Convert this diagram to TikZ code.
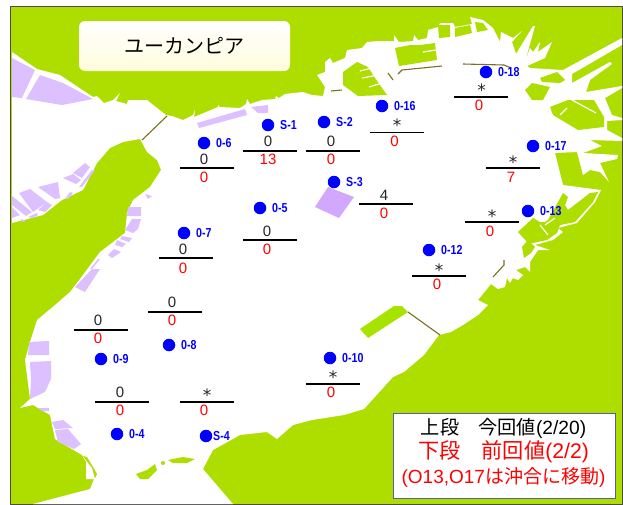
\documentclass[tikz,border=0pt]{standalone}
\usepackage{fontspec}
\setmainfont{Liberation Sans}
\newfontfamily\jp{Noto Sans CJK JP}
\newfontfamily\djv{DejaVu Sans}
\definecolor{land}{HTML}{AEDD00}
\definecolor{land2}{HTML}{A6E400}
\definecolor{fill1}{HTML}{DCC0FF}
\definecolor{fill2}{HTML}{D2A8FF}
\definecolor{bridge}{HTML}{7A7020}
\definecolor{title1}{HTML}{FFFFFF}
\definecolor{title2}{HTML}{FFFBDC}
\definecolor{frameb}{HTML}{5A5AB0}
\usetikzlibrary{calc}
\tikzset{
  water/.style={fill=white},
  isle/.style={fill=land},
  reclaimed/.style={fill=fill1},
  bridgeline/.style={draw=bridge,line width=1.1pt},
  slit/.style={draw=white,line width=1.2pt},
  dot/.style={circle,fill=blue,inner sep=0pt,minimum size=12.5pt},
  stn/.style={anchor=west,text=blue,inner sep=0pt,font=\fontsize{13}{13}\selectfont\bfseries,xscale=.82},
  upper/.style={anchor=base,inner sep=0pt,text=black!85,font=\fontsize{15}{15}\selectfont},
  lower/.style={anchor=base,inner sep=0pt,text=red,font=\fontsize{15}{15}\selectfont},
  star/.style={anchor=base,inner sep=0pt,text=black!85,font=\djv\fontsize{17}{17}\selectfont},
  bar/.style={draw=black,line width=1.5pt},
}
\newcommand{\stat}[6]{% name, dotx, doty, label, barx, bary
  \node[dot] (#1) at (#2,#3) {};
  \node[stn] (#1l) at ($(#1)+(12,0)$) {#4};
  \coordinate (#1a) at (#5,#6);
  \coordinate (#1b) at ($(#1a)+(54,0)$);
  \draw[bar] (#1a) -- (#1b);
}
\begin{document}
\begin{tikzpicture}[x=1pt,y=-1pt]
\useasboundingbox (0,0) rectangle (623,504);
\fill[white] (0,0) rectangle (623,504);
\draw[fill=land,draw=black!70,line width=1pt] (10.5,6.5) -- (622.5,6.5) -- (622.5,504) -- (10.5,504) -- cycle;
% main water
\fill[water] (12,52) -- (37,69) -- (60,75) -- (93,97) -- (97,96) -- (104,103) -- (113,100) -- (120,93) -- (116,101) -- (127,104) -- (128,100) -- (147,100)
 -- (166,115) -- (172,116) -- (183,120) -- (193,115) -- (195,110) -- (194,117) -- (218,107) -- (218,105) -- (220,107) -- (240,108) -- (246,104) -- (247,99) -- (250,104) -- (262,100) -- (275,99) -- (276,96) -- (279,98) -- (285,94) -- (293,93) -- (303,92)
 -- (312,95) -- (323,96) -- (325,87) -- (317,75) -- (325,72) -- (325,62) -- (330,58) -- (333,63) -- (345,58) -- (347,50) -- (362,48) -- (367,42) -- (378,41) -- (394,41) -- (394,35) -- (399,42) -- (413,41) -- (414,35) -- (418,40) -- (427,38) -- (428,30) -- (438,27) -- (440,23) -- (453,23) -- (455,27) -- (472,24) -- (470,17) -- (483,20) -- (493,28) -- (500,42)
 -- (501,32) -- (513,38) -- (522,31) -- (512,42) -- (516,54) -- (533,26) -- (535,26) -- (525,62) -- (530,48) -- (533,52) -- (540,42) -- (538,52) -- (552,42) -- (545,58) -- (527,66) -- (530,68) -- (563,70) -- (622,38) -- (622,45) -- (572,74) -- (572,83) -- (610,62) -- (612,64) -- (590,80) -- (586,92) -- (622,86) -- (622,88) -- (605,98) -- (612,115) -- (622,118) -- (622,120) -- (607,121) -- (607,130) -- (622,138) -- (622,141) -- (590,140) -- (602,146) -- (583,153) -- (618,155) -- (617,159) -- (600,163) -- (609,182) -- (600,172) -- (590,170) -- (583,175) -- (577,152) -- (555,153) -- (563,185) -- (601,190) -- (595,202) -- (577,223) -- (558,228) -- (563,232) -- (553,240) -- (535,245) -- (550,250) -- (538,250) -- (530,262) -- (530,272) -- (525,267) -- (516,270) -- (523,275) -- (518,280) -- (513,278) -- (510,283) -- (507,278) -- (505,287)
 -- (498,289) -- (491,284) -- (478,300) -- (488,305) -- (478,315) -- (463,325) -- (451,332) -- (439,335) -- (424,355) -- (404,372) -- (393,377) -- (364,409) -- (344,415) -- (312,420) -- (293,425) -- (277,439) -- (267,432) -- (240,435) -- (213,450) -- (203,469) -- (233,504)
 -- (33,504) -- (90,489) -- (94,479) -- (86,479) -- (86,462) -- (82,455) -- (55,439) -- (50,415) -- (33,405) -- (20,408) -- (30,399) -- (25,360) -- (30,342) -- (37,320) -- (55,305) -- (70,292) -- (80,279) -- (100,252) -- (125,233) -- (127,213) -- (133,200) -- (150,187) -- (161,170) -- (157,160) -- (147,152) -- (140,139) -- (123,142) -- (110,148) -- (97,163) -- (83,190) -- (62,200) -- (43,215) -- (12,223) -- cycle;
% green islands
\fill[isle] (343,72) -- (357,62) -- (368,67) -- (375,78) -- (387,95) -- (358,96) -- (343,85) -- cycle;
\fill[isle] (395,48) -- (410,45) -- (420,45) -- (435,43) -- (437,60) -- (399,66) -- cycle;
\fill[isle] (438,25) -- (450,25) -- (450,37) -- (439,38) -- cycle;
\fill[isle] (455,28) -- (470,25) -- (472,33) -- (455,37) -- cycle;
\fill[isle] (475,22) -- (483,23) -- (488,30) -- (477,32) -- cycle;
\fill[isle] (540,78) -- (557,72) -- (565,80) -- (560,83) -- (542,82) -- cycle;
\fill[isle] (525,90) -- (532,83) -- (550,87) -- (543,100) -- (532,100) -- cycle;
\fill[isle] (550,107) -- (568,100) -- (594,100) -- (604,117) -- (604,127) -- (578,130) -- (553,115) -- cycle;
\fill[isle] (563,193) -- (568,197) -- (565,205) -- (568,210) -- (590,193) -- (598,192) -- (593,202) -- (575,222) -- (560,225) -- (557,233) -- (547,240) -- (533,243) -- (527,242) -- (518,232) -- (533,218) -- (540,222) -- (545,222) -- (548,220) -- cycle;
\fill[isle] (522,247) -- (528,240) -- (535,247) -- (531,253) -- (524,258) -- cycle;
\fill[isle] (83,456) -- (87,457) -- (93,467) -- (97,474) -- (95,478) -- (92,468) -- (86,460) -- cycle;
\fill[isle] (136,474) -- (147,470) -- (155,464) -- (157,470) -- (148,479) -- (140,479) -- cycle;
\fill[isle] (163,463) circle[radius=2];
\fill[isle] (168,460) -- (183,457) -- (195,459) -- (187,463) -- (173,463) -- cycle;
\fill[land2] (360,329) -- (394,306) -- (402,306) -- (408,312) -- (368,338) -- cycle;
% white slits
\draw[slit] (360,71) -- (372,68) (362,78) -- (378,75) (369,87) -- (382,83) (423,52) -- (436,50);
\draw[slit] (560,115) -- (567,108) (572,100) -- (596,113);
\draw[slit] (545,225) -- (555,218) (540,225) -- (548,235);
% reclaimed land
\fill[reclaimed] (12,58) -- (35,70) -- (22,98) -- (12,97) -- cycle;
\fill[reclaimed] (40,75) -- (63,83) -- (93,99) -- (62,105) -- (26,99) -- cycle;
\fill[reclaimed] (197,123) -- (245,109) -- (247,115) -- (199,128) -- cycle;
\fill[reclaimed] (251,107) -- (268,105) -- (268,113) -- (258,113) -- cycle;
\fill[reclaimed] (12,196) -- (32,212) -- (26,216) -- (12,205) -- cycle;
\fill[reclaimed] (19,193) -- (30,189) -- (47,202) -- (33,212) -- cycle;
\fill[reclaimed] (38,187) -- (58,182) -- (60,198) -- (55,199) -- cycle;
\fill[reclaimed] (63,178) -- (73,174) -- (81,180) -- (76,184) -- cycle;
\fill[reclaimed] (73,173) -- (85,163) -- (90,167) -- (82,178) -- cycle;
\fill[reclaimed] (79,187) -- (92,170) -- (95,170) -- (82,187) -- cycle;
\fill[reclaimed] (65,199) -- (70,192) -- (73,193) -- (68,199) -- cycle;
\fill[reclaimed] (38,210) -- (47,202) -- (52,205) -- (45,212) -- cycle;
\fill[reclaimed] (28,217) -- (37,213) -- (38,215) -- (32,218) -- cycle;
\fill[reclaimed] (12,207) -- (20,215) -- (12,218) -- cycle;
\fill[reclaimed] (21,219) -- (26,221) -- (22,222) -- cycle;
\fill[reclaimed] (145,194) -- (152,196) -- (148,199) -- cycle;
\fill[reclaimed] (128,207) -- (141,207) -- (141,216) -- (127,216) -- cycle;
\fill[reclaimed] (132,219) -- (141,219) -- (138,229) -- (133,233) -- (125,230) -- cycle;
\fill[reclaimed] (122,236) -- (132,238) -- (129,242) -- (120,239) -- cycle;
\fill[reclaimed] (117,240) -- (126,244) -- (122,247) -- (115,245) -- cycle;
\fill[reclaimed] (114,249) -- (121,252) -- (112,258) -- (108,255) -- cycle;
\fill[reclaimed] (100,259) -- (92,269) -- (90,269) -- (98,259) -- cycle;
\fill[reclaimed] (100,269) -- (85,292) -- (75,287) -- (92,269) -- cycle;
\fill[reclaimed] (29,342) -- (49,341) -- (49,355) -- (28,355) -- cycle;
\fill[reclaimed] (30,362) -- (51,361) -- (51,379) -- (45,392) -- (30,399) -- (31,379) -- cycle;
\fill[reclaimed] (38,408) -- (49,408) -- (49,411) -- (42,411) -- cycle;
\fill[reclaimed] (52,422) -- (63,420) -- (73,428) -- (55,429) -- cycle;
\fill[reclaimed] (55,430) -- (68,429) -- (81,444) -- (74,449) -- (58,442) -- cycle;
\fill[fill2] (328,187) -- (354,197) -- (339,218) -- (315,207) -- cycle;
% bridges
\draw[bridgeline] (167,116) -- (142,140);
\draw[bridgeline] (331,91) -- (342,90);
\draw[bridgeline] (388,73) -- (393,80);
\draw[bridgeline] (398,74) -- (402,70) -- (442,66);
\draw[bridgeline] (463,64) -- (504,65) -- (511,68);
\draw[bridgeline] (408,312) -- (440,335);
\draw[bridgeline] (493,277) -- (504,265) -- (504,260);
% title
\node[draw=none,rounded corners=6pt,top color=title1,bottom color=title2,minimum width=211pt,minimum height=50pt,inner sep=0pt,font=\jp\fontsize{20}{20}\selectfont] (title) at (184.5,46) {ユーカンピア};
% stations
\stat{o6}{204}{143}{0-6}{180}{168}
\stat{s1}{268}{125}{S-1}{243}{151}
\stat{s2}{324}{122}{S-2}{306}{151}
\stat{o16}{382}{106}{0-16}{370}{132.5}
\stat{o18}{486}{72}{0-18}{454}{97}
\stat{o17}{533}{146}{0-17}{486}{168}
\stat{s3}{334}{182}{S-3}{359}{204}
\stat{o5}{260}{208}{0-5}{243}{240}
\stat{o13}{528}{211}{0-13}{465}{222}
\stat{o7}{184}{233}{0-7}{159}{258}
\stat{o12}{429}{250}{0-12}{412}{276}
\stat{o10}{330}{358}{0-10}{306}{384}
\stat{o8}{169}{345}{0-8}{148}{312}
\stat{o9}{101}{359}{0-9}{74}{330}
\stat{o4}{117}{434}{0-4}{95}{402}
\node[dot] (s4) at (206,436) {};
\draw[bar] (180,402) coordinate (s4a) -- (234,402) coordinate (s4b);
\node[stn] (s4l) at (213,436) {S-4};
% upper values
\node[upper] (u6) at (204,164.5) {0};
\node[upper] (us1) at (268,146.5) {0};
\node[upper] (us2) at (331,146.5) {0};
\node[star] (u16) at (397,131.8) {*};
\node[star] (u18) at (481.5,96.8) {*};
\node[star] (u17) at (513,168.8) {*};
\node[upper] (us3) at (384,200.5) {4};
\node[star] (u13) at (492,222.8) {*};
\node[upper] (u5) at (267,236.5) {0};
\node[upper] (u7) at (183,254.5) {0};
\node[star] (u12) at (439,276.8) {*};
\node[upper] (u8) at (172,307.5) {0};
\node[upper] (u9) at (98,325.5) {0};
\node[star] (u10) at (333,383.8) {*};
\node[upper] (u4) at (120,397.5) {0};
\node[star] (us4) at (207,401.8) {*};
% lower values
\node[lower] (l6) at (204,182.5) {0};
\node[lower] (ls1) at (268,164.5) {13};
\node[lower] (ls2) at (331,164.5) {0};
\node[lower] (l16) at (394.5,146.5) {0};
\node[lower] (l18) at (479,110.5) {0};
\node[lower] (l17) at (511,182.5) {7};
\node[lower] (ls3) at (384,218.5) {0};
\node[lower] (l13) at (490,236.5) {0};
\node[lower] (l5) at (267,254.5) {0};
\node[lower] (l7) at (183,273) {0};
\node[lower] (l12) at (437,289.5) {0};
\node[lower] (l8) at (172,325.5) {0};
\node[lower] (l9) at (98,343.5) {0};
\node[lower] (l10) at (331,397.5) {0};
\node[lower] (l4) at (120,415.5) {0};
\node[lower] (ls4) at (204,415.5) {0};
% legend
\node[draw=frameb,fill=white,line width=1pt,minimum width=222pt,minimum height=85pt,inner sep=0pt] (legend) at (504,455.5) {};
\node[inner sep=0pt,font=\fontsize{19.2}{19}\selectfont] (leg1) at (503.5,428) {{\jp 上段　今回値}(2/20)};
\node[inner sep=0pt,text=red,font=\fontsize{21.2}{21}\selectfont] (leg2) at (503.5,452) {{\jp 下段　前回値}(2/2)};
\node[inner sep=0pt,text=red,font=\fontsize{19}{19}\selectfont] (leg3) at (503.5,477) {(O13,O17{\jp は沖合に移動})};
\end{tikzpicture}
\end{document}
